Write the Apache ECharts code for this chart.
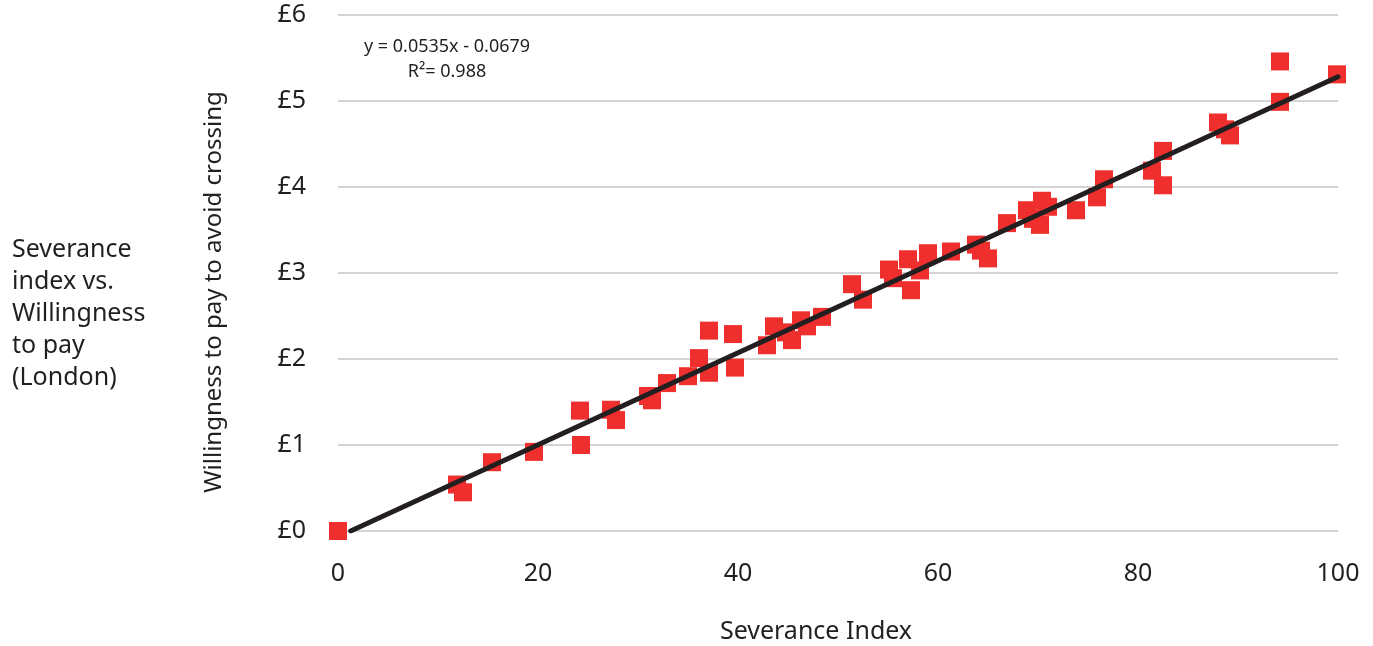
<!DOCTYPE html>
<html>
<head>
<meta charset="utf-8">
<script src="https://cdn.jsdelivr.net/npm/echarts@6/dist/echarts.min.js"></script>
<style>
html,body{margin:0;padding:0;background:#fff;}
#chart{width:1373px;height:646px;}
</style>
</head>
<body>
<div id="chart"></div>
<script>
// Data
const severanceIndex = [0, 11.9, 12.5, 15.4, 19.6, 24.2, 24.3, 27.3, 27.8, 31.0, 31.4, 32.9, 35.0, 36.1, 37.1, 37.1, 39.5, 39.7, 42.9, 43.6, 44.8, 45.4, 46.3, 46.9, 48.4, 51.4, 52.5, 55.1, 55.5, 57.0, 57.3, 58.2, 59.0, 61.3, 63.8, 64.3, 65.0, 66.9, 68.9, 69.5, 70.2, 70.4, 71.0, 73.8, 75.9, 76.6, 81.4, 82.5, 82.5, 88.0, 88.7, 89.2, 94.2, 94.2, 99.9];
const willingness = [0, 0.54, 0.45, 0.80, 0.92, 1.40, 1.00, 1.41, 1.29, 1.57, 1.52, 1.72, 1.80, 2.01, 1.84, 2.33, 2.29, 1.90, 2.16, 2.38, 2.31, 2.22, 2.45, 2.38, 2.49, 2.87, 2.69, 3.04, 2.94, 3.16, 2.80, 3.03, 3.23, 3.25, 3.33, 3.26, 3.17, 3.58, 3.73, 3.63, 3.56, 3.84, 3.77, 3.73, 3.88, 4.09, 4.19, 4.42, 4.02, 4.75, 4.67, 4.60, 5.46, 4.99, 5.31];
const trendSlope = 0.0535;
const trendIntercept = -0.0679;
const trendRange = [1.27, 100];
const xTicks = [0, 20, 40, 60, 80, 100];
const yTicks = [0, 1, 2, 3, 4, 5, 6];

const points = severanceIndex.map((x, i) => [x, willingness[i]]);
const trend = trendRange.map(x => [x, trendSlope * x + trendIntercept]);

const FONT = '"Noto Sans", "DejaVu Sans", sans-serif';
const TXT = '#231f20';

const chart = echarts.init(document.getElementById('chart'));
chart.setOption({
  animation: false,
  backgroundColor: '#ffffff',
  textStyle: { fontFamily: FONT },
  grid: { left: 338, right: 35, top: 15, bottom: 115, containLabel: false, outerBoundsMode: 'none' },
  xAxis: {
    type: 'value', min: 0, max: 100, interval: 20,
    axisLine: { show: false }, axisTick: { show: false }, splitLine: { show: false },
    axisLabel: { color: TXT, fontSize: 25, margin: 30, fontFamily: FONT },
    name: 'Severance Index', nameLocation: 'middle', nameGap: 88,
    nameTextStyle: { color: TXT, fontSize: 25, fontFamily: FONT, padding: [0, 44, 0, 0] }
  },
  yAxis: {
    type: 'value', min: 0, max: 6, interval: 1,
    axisLine: { show: false }, axisTick: { show: false },
    splitLine: { lineStyle: { color: '#d4d4d4', width: 2 } },
    axisLabel: { color: TXT, fontSize: 25, margin: 32, fontFamily: FONT, formatter: v => '£' + v },
    name: 'Willingness to pay to avoid crossing', nameLocation: 'middle', nameGap: 112, nameRotate: 90,
    nameTextStyle: { color: TXT, fontSize: 24, fontFamily: FONT, padding: [0, 38, 0, 0] }
  },
  series: [
    {
      type: 'scatter', data: points, symbol: 'rect', symbolSize: 18,
      itemStyle: { color: '#ef2f2d', opacity: 1 }, z: 2
    },
    {
      type: 'line', data: trend, showSymbol: false, symbol: 'none',
      lineStyle: { color: '#231f20', width: 5, cap: 'round' }, z: 3
    }
  ],
  graphic: [
    { type: 'text', left: 12, top: 234, style: { text: 'Severance\nindex vs.\nWillingness\nto pay\n(London)', font: '25px ' + FONT, fill: TXT, lineHeight: 32 } },
    { type: 'text', x: 447, y: 47, style: { text: 'y = 0.0535x - 0.0679', font: '18px ' + FONT, fill: TXT, textAlign: 'center', textVerticalAlign: 'middle' } },
    { type: 'text', x: 447, y: 72, style: { text: 'R²= 0.988', font: '18px ' + FONT, fill: TXT, textAlign: 'center', textVerticalAlign: 'middle' } }
  ]
});
</script>
</body>
</html>
